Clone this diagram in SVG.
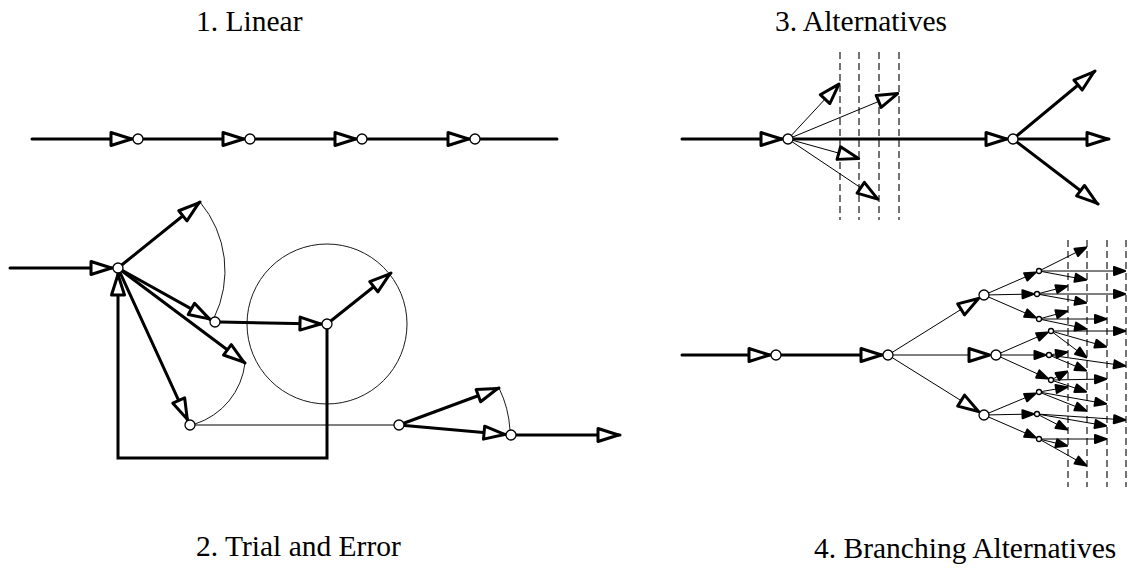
<svg xmlns="http://www.w3.org/2000/svg" width="1142" height="583" viewBox="0 0 1142 583">
<style>
.thick{stroke:#000;stroke-width:3;fill:none;stroke-linecap:round}
.thin{stroke:#000;stroke-width:1;fill:none}
.arc{stroke:#000;stroke-width:0.9;fill:none}
.dash{stroke:#000;stroke-width:1.1;stroke-dasharray:7 4;fill:none}
.node{fill:#fff;stroke:#000;stroke-width:1.3}
.h{marker-end:url(#mh)}
.f{marker-end:url(#mf)}
.t{font-family:"Liberation Serif","Times New Roman",serif;font-size:29.5px;fill:#000}
</style>
<defs>
<marker id="mh" markerUnits="userSpaceOnUse" markerWidth="34" markerHeight="22" viewBox="-30 -11 34 22" refX="0" refY="0" orient="auto" overflow="visible">
<path d="M-22,-6.5 L-1.5,0 L-22,6.5 Z" fill="#fff" stroke="#000" stroke-width="3" stroke-linejoin="round"/>
</marker>
<marker id="mf" markerUnits="userSpaceOnUse" markerWidth="20" markerHeight="14" viewBox="-16 -7 20 14" refX="0" refY="0" orient="auto" overflow="visible">
<path d="M-12,-4 L-1,0 L-12,4 Z" fill="#000" stroke="#000" stroke-width="2" stroke-linejoin="round"/>
</marker>
</defs>
<rect width="1142" height="583" fill="#fff"/>

<g id="titles">
<text class="t" x="196" y="31">1. Linear</text>
<text class="t" x="775" y="31">3. Alternatives</text>
<text class="t" x="196" y="556">2. Trial and Error</text>
<text class="t" x="814" y="558">4. Branching Alternatives</text>
</g>

<g id="guides">
<path class="dash" d="M840,52V220M859,52V220M879,52V220M899,52V220"/>
<path class="dash" d="M1068,240V487M1087,240V487M1107,240V487M1126,240V487"/>
<circle class="arc" cx="327" cy="324" r="80"/>
<path class="arc" d="M200,202 A107,107 0 0 1 214,318"/>
<path class="arc" d="M245,363 A72.5,72.5 0 0 1 195,424"/>
<path class="arc" d="M499,388 A110,110 0 0 1 510,430"/>
</g>

<g id="connectors">
<!-- panel 1 -->
<path class="thick h" d="M32,139 H133"/>
<path class="thick h" d="M143,139 H245"/>
<path class="thick h" d="M255,139 H357"/>
<path class="thick h" d="M367,139 H470"/>
<path class="thick" d="M480,139 H557"/>
<!-- panel 2 -->
<path class="thick h" d="M10,268 H113"/>
<path class="thick h" d="M118,268 L200,202"/>
<path class="thick h" d="M118,268 L210.6,319.6"/>
<path class="thick h" d="M118,268 L245,363"/>
<path class="thick h" d="M118,268 L187.9,420.5"/>
<path class="thick h" d="M327,329 V458 H118 V273"/>
<path class="thick h" d="M220,322 L322,324"/>
<path class="thick h" d="M327,324 L391,273"/>
<path class="thin" d="M195,425 H394"/>
<path class="thick h" d="M399,425 L499,388"/>
<path class="thick h" d="M399,425 L506,434.6"/>
<path class="thick h" d="M511,435 H620"/>
<!-- panel 3 -->
<path class="thick h" d="M682,139 H783"/>
<path class="thick h" d="M793,139 H1008"/>
<path class="thick h" d="M1013,139 L1095,71"/>
<path class="thick h" d="M1013,139 H1109"/>
<path class="thick h" d="M1013,139 L1098,204"/>
<path class="thin h" d="M788,139 L840,83"/>
<path class="thin h" d="M788,139 L899,93"/>
<path class="thin h" d="M788,139 L860,159"/>
<path class="thin h" d="M788,139 L879,200"/>
<!-- panel 4 -->
<path class="thick h" d="M682,355 H771"/>
<path class="thick h" d="M781,355 H883"/>
<path class="thin h" d="M888,355 L979.8,297.7"/>
<path class="thin h" d="M888,355 L991,355"/>
<path class="thin h" d="M888,355 L979.8,412.3"/>
<path class="thin f" d="M984,295 L1036.7,272"/>
<path class="thin f" d="M984,295 L1034.5,294"/>
<path class="thin f" d="M984,295 L1036.7,318"/>
<path class="thin f" d="M996,355 L1048.7,332"/>
<path class="thin f" d="M996,355 L1046.5,355"/>
<path class="thin f" d="M996,355 L1048.7,379"/>
<path class="thin f" d="M984,415 L1036.7,393"/>
<path class="thin f" d="M984,415 L1034.5,414"/>
<path class="thin f" d="M984,415 L1036.7,438"/>
<path class="thin f" d="M1039,271 L1087,247"/>
<path class="thin f" d="M1039,271 L1126,271"/>
<path class="thin f" d="M1039,271 L1087,280"/>
<path class="thin f" d="M1037,294 L1068,286"/>
<path class="thin f" d="M1037,294 L1126,294"/>
<path class="thin f" d="M1037,294 L1087,303"/>
<path class="thin f" d="M1039,319 L1068,311"/>
<path class="thin f" d="M1039,319 L1107,319"/>
<path class="thin f" d="M1039,319 L1087,329"/>
<path class="thin f" d="M1051,331 L1126,331"/>
<path class="thin f" d="M1051,331 L1107,347"/>
<path class="thin f" d="M1051,331 L1087,358"/>
<path class="thin f" d="M1049,355 L1068,352"/>
<path class="thin f" d="M1049,355 L1126,366"/>
<path class="thin f" d="M1049,355 L1087,371"/>
<path class="thin f" d="M1051,380 L1068,371"/>
<path class="thin f" d="M1051,380 L1107,379"/>
<path class="thin f" d="M1051,380 L1087,392"/>
<path class="thin f" d="M1039,392 L1068,387"/>
<path class="thin f" d="M1039,392 L1107,404"/>
<path class="thin f" d="M1039,392 L1087,411"/>
<path class="thin f" d="M1037,414 L1126,420"/>
<path class="thin f" d="M1037,414 L1107,426"/>
<path class="thin f" d="M1037,414 L1068,430"/>
<path class="thin f" d="M1039,439 L1107,439"/>
<path class="thin f" d="M1039,439 L1068,446"/>
<path class="thin f" d="M1039,439 L1087,466"/>
</g>

<g id="nodes">
<g id="p1-n1"><circle class="node" cx="138" cy="139" r="5"/></g>
<g id="p1-n2"><circle class="node" cx="250" cy="139" r="5"/></g>
<g id="p1-n3"><circle class="node" cx="362" cy="139" r="5"/></g>
<g id="p1-n4"><circle class="node" cx="475" cy="139" r="5"/></g>
<g id="p2-A"><circle class="node" cx="118" cy="268" r="5"/></g>
<g id="p2-B"><circle class="node" cx="215" cy="322" r="5"/></g>
<g id="p2-C"><circle class="node" cx="190" cy="425" r="5"/></g>
<g id="p2-D"><circle class="node" cx="327" cy="324" r="5"/></g>
<g id="p2-E"><circle class="node" cx="399" cy="425" r="5"/></g>
<g id="p2-F"><circle class="node" cx="511" cy="435" r="5"/></g>
<g id="p3-G"><circle class="node" cx="788" cy="139" r="5"/></g>
<g id="p3-H"><circle class="node" cx="1013" cy="139" r="5"/></g>
<g id="p4-I"><circle class="node" cx="776" cy="355" r="5"/></g>
<g id="p4-J"><circle class="node" cx="888" cy="355" r="5"/></g>
<g id="p4-K1"><circle class="node" cx="984" cy="295" r="5"/></g>
<g id="p4-K2"><circle class="node" cx="996" cy="355" r="5"/></g>
<g id="p4-K3"><circle class="node" cx="984" cy="415" r="5"/></g>
<g id="p4-L11"><circle class="node" cx="1039" cy="271" r="2.5"/></g>
<g id="p4-L12"><circle class="node" cx="1037" cy="294" r="2.5"/></g>
<g id="p4-L13"><circle class="node" cx="1039" cy="319" r="2.5"/></g>
<g id="p4-L21"><circle class="node" cx="1051" cy="331" r="2.5"/></g>
<g id="p4-L22"><circle class="node" cx="1049" cy="355" r="2.5"/></g>
<g id="p4-L23"><circle class="node" cx="1051" cy="380" r="2.5"/></g>
<g id="p4-L31"><circle class="node" cx="1039" cy="392" r="2.5"/></g>
<g id="p4-L32"><circle class="node" cx="1037" cy="414" r="2.5"/></g>
<g id="p4-L33"><circle class="node" cx="1039" cy="439" r="2.5"/></g>
</g>
</svg>
